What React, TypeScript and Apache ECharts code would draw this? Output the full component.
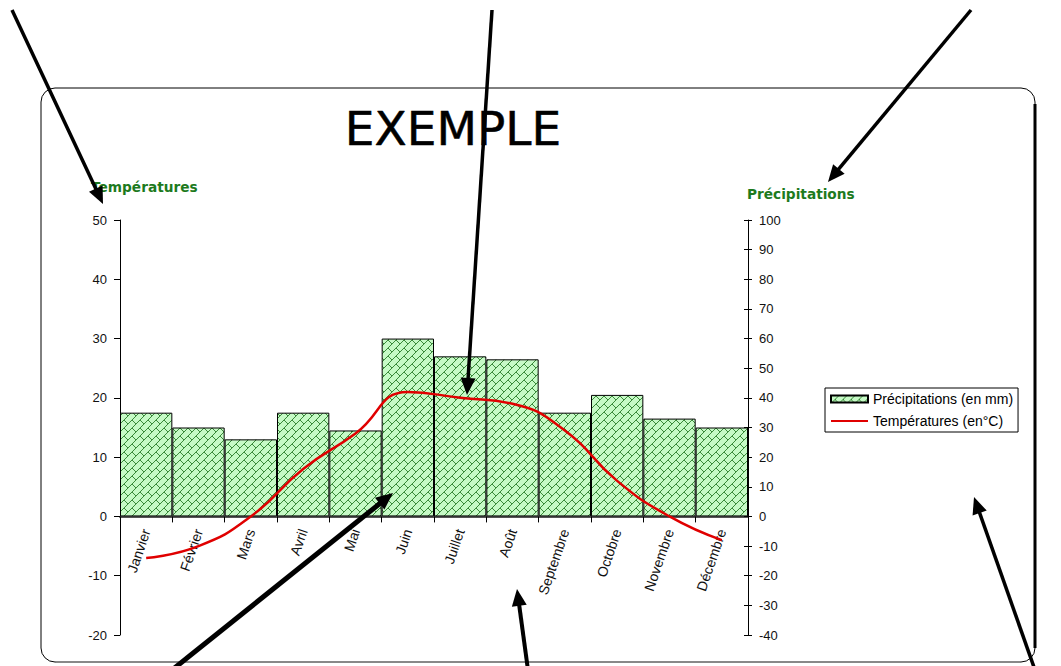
import React, { useEffect, useRef } from 'react';
import * as echarts from 'echarts';

// ---- Data ----
const months = ['Janvier', 'Février', 'Mars', 'Avril', 'Mai', 'Juin', 'Juillet', 'Août', 'Septembre', 'Octobre', 'Novembre', 'Décembre'];
const precipitations = [35, 30, 26, 35, 29, 60, 54, 53, 35, 41, 33, 30];
const temperatures = [-7, -5, 0, 8, 14, 21, 20, 19, 14.5, 6, 0, -4];
const tempTicks = { min: -20, max: 50, step: 10 };
const precipTicks = { min: -40, max: 100, step: 10 };
const chartTitle = 'EXEMPLE';
const seriesNames = ['Précipitations (en mm)', 'Températures (en°C)'];
const axisNames = ['Températures', 'Précipitations'];

// ---- Layout ----
const GRID = { left: 120, right: 313, top: 220, bottom: 31 };
const H = 666;

// ---- Annotation arrows (tailX, tailY, tipX, tipY, width) ----
const arrows: number[][] = [
  [12, 10, 103, 204, 3.5],
  [492, 10, 467, 395, 3.5],
  [971, 10, 828, 182, 3.5],
  [172, 670, 393, 493, 5],
  [528, 670, 517, 589, 4],
  [1035, 670, 974, 497, 3.5],
];

function makePattern() {
  const c = document.createElement('canvas');
  c.width = 8;
  c.height = 8;
  const ctx = c.getContext('2d')!;
  ctx.fillStyle = '#c6fac6';
  ctx.fillRect(0, 0, 8, 8);
  ctx.fillStyle = '#3a8a3a';
  for (let i = 0; i < 8; i++) ctx.fillRect(i, 7 - i, 1, 1);
  for (let i = 4; i < 8; i++) ctx.fillRect(i, i, 1, 1);
  return c;
}

function arrowGraphics() {
  const out: any[] = [];
  arrows.forEach(([x1, y1, x2, y2, w]) => {
    const dx = x2 - x1;
    const dy = y2 - y1;
    const len = Math.sqrt(dx * dx + dy * dy);
    const ux = dx / len;
    const uy = dy / len;
    const L = 17;
    const W = 7.5;
    const bx = x2 - ux * L;
    const by = y2 - uy * L;
    out.push({
      type: 'line',
      z: 100,
      shape: { x1, y1, x2: bx + ux * 2, y2: by + uy * 2 },
      style: { stroke: '#000', lineWidth: w },
    });
    out.push({
      type: 'polygon',
      z: 100,
      shape: {
        points: [
          [x2, y2],
          [bx - uy * W, by + ux * W],
          [bx + uy * W, by - ux * W],
        ],
      },
      style: { fill: '#000' },
    });
  });
  return out;
}

export default function App() {
  const ref = useRef<HTMLDivElement>(null);

  useEffect(() => {
    if (!ref.current) return;
    const chart = echarts.init(ref.current, null, { renderer: 'svg' });
    const canvas = makePattern();
    const pattern: any = { image: canvas, repeat: 'repeat', imageWidth: 8, imageHeight: 8 };

    const labelFont = { fontFamily: 'Liberation Sans, Arial, sans-serif', fontSize: 13, color: '#111' };
    const gridHeight = H - GRID.top - GRID.bottom;
    const zeroOffset = (gridHeight * (0 - tempTicks.min)) / (tempTicks.max - tempTicks.min);

    const option: any = {
      animation: false,
      backgroundColor: '#ffffff',
      grid: { ...GRID, containLabel: false, outerBoundsMode: 'none' },
      legend: {
        orient: 'vertical',
        left: 825,
        top: 388,
        padding: [4, 5, 4, 5],
        itemGap: 8,
        itemWidth: 37,
        itemHeight: 7,
        borderColor: '#000',
        borderWidth: 1,
        borderRadius: 0,
        backgroundColor: '#fff',
        textStyle: { fontFamily: 'Liberation Sans, Arial, sans-serif', fontSize: 14, color: '#000' },
        data: [
          { name: seriesNames[0], icon: 'rect' },
          { name: seriesNames[1], itemStyle: { opacity: 0 } },
        ],
      },
      xAxis: {
        type: 'category',
        data: months,
        boundaryGap: true,
        offset: -zeroOffset,
        axisLine: { onZero: false, lineStyle: { color: '#555', width: 2 } },
        axisTick: { show: true, interval: 0, length: 6, lineStyle: { color: '#000' } },
        axisLabel: { interval: 0, rotate: 71, margin: 13, ...labelFont, fontSize: 14 },
        splitLine: { show: false },
      },
      yAxis: [
        {
          type: 'value',
          position: 'left',
          min: tempTicks.min,
          max: tempTicks.max,
          interval: tempTicks.step,
          axisLine: { show: true, onZero: false, lineStyle: { color: '#000', width: 1 } },
          axisTick: { show: true, length: 6, lineStyle: { color: '#000' } },
          axisLabel: { margin: 13, ...labelFont },
          splitLine: { show: false },
        },
        {
          type: 'value',
          position: 'right',
          min: precipTicks.min,
          max: precipTicks.max,
          interval: precipTicks.step,
          axisLine: { show: true, onZero: false, lineStyle: { color: '#000', width: 1 } },
          axisTick: { show: true, length: 4, lineStyle: { color: '#000' } },
          axisLabel: { margin: 11, ...labelFont },
          splitLine: { show: false },
        },
        {
          type: 'value',
          position: 'right',
          min: precipTicks.min,
          max: precipTicks.max,
          interval: precipTicks.step,
          axisLine: { show: false, onZero: false },
          axisTick: { show: true, inside: true, length: 4, lineStyle: { color: '#000' } },
          axisLabel: { show: false },
          splitLine: { show: false },
        },
      ],
      series: [
        {
          type: 'bar',
          name: seriesNames[0],
          data: precipitations,
          yAxisIndex: 1,
          barWidth: '100%',
          barGap: '0%',
          barCategoryGap: '0%',
          itemStyle: { color: pattern, borderColor: '#000', borderWidth: 1 },
          z: 2,
        },
        {
          type: 'line',
          name: seriesNames[1],
          data: temperatures,
          yAxisIndex: 0,
          smooth: 0.5,
          symbol: 'none',
          showSymbol: false,
          lineStyle: { color: '#e00000', width: 2.5 },
          itemStyle: { color: '#e00000' },
          z: 5,
        },
      ],
      graphic: [
        {
          type: 'rect',
          z: -1,
          shape: { x: 41, y: 88, width: 994, height: 574, r: 14 },
          style: { fill: 'none', stroke: '#000', lineWidth: 1 },
          silent: true,
        },
        {
          type: 'line',
          z: -1,
          shape: { x1: 1035, y1: 104, x2: 1035, y2: 648 },
          style: { stroke: '#000', lineWidth: 3 },
        },
        {
          type: 'line',
          z: -1,
          shape: { x1: 56, y1: 662, x2: 1020, y2: 662 },
          style: { stroke: '#888', lineWidth: 2 },
        },
        {
          type: 'text',
          z: 10,
          x: 453,
          y: 128,
          style: {
            text: chartTitle,
            fill: '#000',
            stroke: '#000',
            lineWidth: 0.5,
            font: 'normal 47px "DejaVu Sans", sans-serif',
            textAlign: 'center',
            textVerticalAlign: 'middle',
          },
        },
        {
          type: 'text',
          z: 10,
          x: 91,
          y: 187,
          style: {
            text: axisNames[0],
            fill: '#1d7a1d',
            font: 'bold 13.7px "DejaVu Sans", sans-serif',
            textAlign: 'left',
            textVerticalAlign: 'middle',
          },
        },
        {
          type: 'text',
          z: 10,
          x: 747,
          y: 194,
          style: {
            text: axisNames[1],
            fill: '#1d7a1d',
            font: 'bold 13.7px "DejaVu Sans", sans-serif',
            textAlign: 'left',
            textVerticalAlign: 'middle',
          },
        },
        ...arrowGraphics(),
      ],
    };

    chart.setOption(option);
    return () => chart.dispose();
  }, []);

  return <div ref={ref} style={{ position: 'absolute', left: 0, top: 0, width: 1061, height: 666 }} />;
}
